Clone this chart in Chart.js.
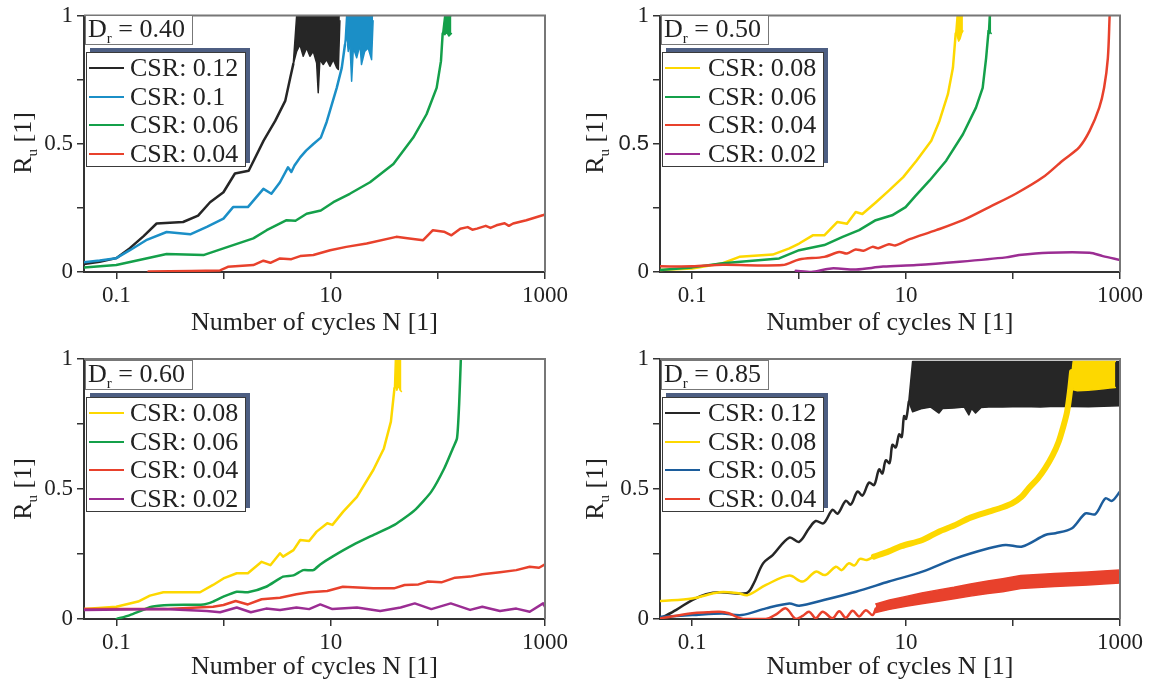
<!DOCTYPE html>
<html>
<head>
<meta charset="utf-8">
<script src="https://cdn.jsdelivr.net/npm/chart.js@4.4.0/dist/chart.umd.min.js"></script>
<style>
  html, body { margin: 0; padding: 0; background: #fff; }
  #page { position: relative; width: 1153px; height: 684px; overflow: hidden;
          font-family: "Liberation Serif", "Times New Roman", serif; color: #222; }
  #page canvas { position: absolute; }
  .dr { position: absolute; width: 108px; height: 30px; box-sizing: border-box;
        border: 1.5px solid #777; background: #fff; font-size: 26px; line-height: 26px;
        padding-left: 2px; white-space: nowrap; }
  .legend { position: absolute; height: 115px; box-sizing: border-box; background: #fff;
            border: 1.5px solid #3a3a3a; box-shadow: 4px -4px 0 0 #4d5e82; }
  .legend .row { position: absolute; left: 0; right: 0; height: 28px; line-height: 28px;
                 font-size: 26px; white-space: nowrap; }
  .legend .swatch { position: absolute; left: 2px; top: 13px; width: 35px; height: 2px; }
  .legend .txt { position: absolute; }
  .ytitle { position: absolute; width: 120px; height: 30px; line-height: 30px; text-align: center;
            font-size: 26px; transform: rotate(-90deg); white-space: nowrap; }
  .xtitle { position: absolute; width: 400px; height: 30px; line-height: 30px; text-align: center;
            font-size: 26px; white-space: nowrap; }
  sub { font-size: 15px; vertical-align: -6px; line-height: 0; }
</style>
</head>
<body>
<div id="page"></div>
<script>
// Axis ticks
const xTickValues = [0.1, 1, 10, 100, 1000];
const xTickLabels = ['0.1', '', '10', '', '1000'];
const yTickValues = [0, 0.25, 0.5, 0.75, 1];
const yTickLabels = ['0', '', '0.5', '', '1'];

// Dr = 0.40
const d40CycBlack = [0.05, 0.07, 0.1, 0.134, 0.18, 0.238, 0.42, 0.58, 0.75, 1.0, 1.28, 1.72, 2.37, 3.04, 3.77, 4.2, 4.48];
const d40RuBlack = [0.031, 0.04, 0.054, 0.093, 0.14, 0.189, 0.195, 0.22, 0.272, 0.311, 0.384, 0.395, 0.512, 0.589, 0.667, 0.757, 0.81];
const d40CycBlackBand = [4.48, 4.82, 5.17, 5.55, 5.97, 6.41, 6.88, 7.4, 7.66, 7.94, 8.53, 9.18, 9.85, 10.6, 11.4, 11.8, 12.2];
const d40LowBlackBand = [0.81, 0.86, 0.886, 0.841, 0.873, 0.841, 0.86, 0.815, 0.699, 0.828, 0.809, 0.828, 0.802, 0.828, 0.796, 0.79, 0.98];
const d40HighBlackBand = [0.81, 1, 1, 1, 1, 1, 1, 1, 1, 1, 1, 1, 1, 1, 1, 1, 1];
const d40CycBlue = [0.05, 0.07, 0.1, 0.134, 0.19, 0.295, 0.49, 0.7, 1.0, 1.23, 1.69, 2.36, 2.8, 3.37, 4.0, 4.3, 4.6, 5.2, 5.9, 6.9, 8.1, 9.18, 9.85, 11.4, 12.7, 13.6];
const d40RuBlue = [0.038, 0.045, 0.054, 0.085, 0.124, 0.156, 0.147, 0.176, 0.208, 0.253, 0.253, 0.324, 0.305, 0.35, 0.408, 0.39, 0.415, 0.447, 0.473, 0.499, 0.524, 0.585, 0.628, 0.718, 0.796, 0.886];
const d40CycBlueBand = [13.6, 14.1, 14.6, 15.1, 15.7, 16.3, 17.5, 18.8, 19.4, 20.8, 22.4, 24.1, 24.9];
const d40LowBlueBand = [0.886, 0.925, 0.86, 0.899, 0.744, 0.873, 0.835, 0.886, 0.809, 0.86, 0.873, 0.828, 0.98];
const d40HighBlueBand = [0.886, 1, 1, 1, 1, 1, 1, 1, 1, 1, 1, 1, 1];
const d40CycGreen = [0.05, 0.1, 0.19, 0.295, 0.65, 1.0, 1.9, 2.53, 3.88, 4.7, 5.97, 8.1, 10.6, 15.1, 23.3, 38.5, 59, 78.5, 97.5, 107, 111];
const d40RuGreen = [0.018, 0.027, 0.053, 0.07, 0.066, 0.092, 0.131, 0.163, 0.202, 0.2, 0.227, 0.24, 0.272, 0.305, 0.35, 0.421, 0.524, 0.615, 0.718, 0.822, 0.93];
const d40CycGreenBand = [111, 116, 121, 127, 134];
const d40LowGreenBand = [0.93, 0.925, 0.935, 0.92, 0.93];
const d40HighGreenBand = [0.93, 1, 1, 1, 1];
const d40CycRed = [0.2, 0.5, 0.93, 1.1, 1.9, 2.36, 2.74, 3.37, 4.3, 5.2, 6.9, 9.9, 14, 21.7, 41, 52, 73, 90, 114, 134, 162, 190, 210, 232, 280, 310, 352, 420, 460, 504, 670, 950, 1000];
const d40RuRed = [0.002, 0.004, 0.006, 0.02, 0.027, 0.044, 0.036, 0.053, 0.05, 0.062, 0.066, 0.085, 0.098, 0.111, 0.137, 0.132, 0.124, 0.163, 0.157, 0.143, 0.169, 0.175, 0.165, 0.169, 0.18, 0.172, 0.182, 0.19, 0.18, 0.189, 0.202, 0.221, 0.225];

// Dr = 0.50
const d50CycYellow = [0.05, 0.1, 0.193, 0.276, 0.566, 0.81, 1.0, 1.34, 1.72, 2.28, 2.8, 3.38, 3.9, 5.2, 6.9, 9.4, 12.5, 17.2, 20.5, 24.6, 27.4, 29.1];
const d50RuYellow = [0.008, 0.014, 0.034, 0.059, 0.068, 0.092, 0.111, 0.143, 0.143, 0.195, 0.188, 0.234, 0.226, 0.271, 0.317, 0.37, 0.434, 0.512, 0.589, 0.693, 0.796, 0.93];
const d50CycYellowBand = [29.1, 30, 31, 32, 33, 34];
const d50LowYellowBand = [0.93, 0.92, 0.9, 0.91, 0.93, 0.94];
const d50HighYellowBand = [0.93, 1, 1, 1, 1, 1];
const d50CycGreen = [0.05, 0.1, 0.193, 0.65, 1.0, 1.72, 2.55, 3.64, 5.2, 7.4, 9.9, 12.3, 16.6, 23.7, 34, 45, 52, 56, 59];
const d50RuGreen = [0.008, 0.018, 0.034, 0.053, 0.085, 0.105, 0.137, 0.163, 0.202, 0.221, 0.253, 0.298, 0.357, 0.434, 0.537, 0.641, 0.718, 0.834, 0.94];
const d50CycGreenBand = [59, 60, 61, 62.5];
const d50LowGreenBand = [0.94, 0.93, 0.935, 0.93];
const d50HighGreenBand = [0.94, 1, 1, 1];
const d50CycRed = [0.05, 0.1, 0.193, 0.7, 1.0, 1.72, 2.37, 2.8, 3.37, 4.0, 4.84, 5.5, 6.9, 8.0, 10.8, 19.1, 34, 60, 106, 190, 290, 415, 520, 640, 710, 770, 800];
const d50RuRed = [0.022, 0.022, 0.028, 0.027, 0.049, 0.059, 0.078, 0.072, 0.088, 0.083, 0.098, 0.093, 0.108, 0.104, 0.128, 0.163, 0.202, 0.253, 0.305, 0.369, 0.434, 0.486, 0.55, 0.641, 0.718, 0.834, 1.0];
const d50CycPurple = [0.93, 1.3, 2.0, 3.4, 6.1, 12.5, 31.6, 86, 114, 215, 520, 690, 1000];
const d50RuPurple = [0.005, 0.0, 0.014, 0.01, 0.021, 0.027, 0.04, 0.057, 0.066, 0.075, 0.075, 0.062, 0.047];

// Dr = 0.60
const d60CycYellow = [0.05, 0.1, 0.16, 0.206, 0.275, 0.605, 0.8, 1.0, 1.33, 1.69, 2.27, 2.74, 3.37, 3.6, 4.5, 5.2, 6.3, 7.4, 9.3, 10.4, 13.1, 17.6, 25, 31.4, 36.5, 39.4];
const d60RuYellow = [0.038, 0.047, 0.067, 0.09, 0.103, 0.103, 0.131, 0.156, 0.176, 0.176, 0.22, 0.207, 0.253, 0.24, 0.265, 0.304, 0.3, 0.336, 0.368, 0.362, 0.413, 0.47, 0.573, 0.656, 0.759, 0.887];
const d60CycYellowBand = [39.4, 40.2, 41.5, 43, 44.5, 45.8];
const d60LowYellowBand = [0.887, 0.9, 0.88, 0.9, 0.88, 0.875];
const d60HighYellowBand = [0.887, 1, 1, 1, 1, 1];
const d60CycGreen = [0.101, 0.134, 0.214, 0.32, 0.65, 0.8, 1.0, 1.33, 1.69, 2.5, 3.6, 4.5, 5.55, 6.9, 8.0, 10.4, 16.2, 25, 39.4, 61, 87, 115, 138, 151, 158, 164];
const d60RuGreen = [0.0, 0.015, 0.047, 0.054, 0.056, 0.067, 0.086, 0.105, 0.103, 0.124, 0.163, 0.168, 0.188, 0.188, 0.21, 0.24, 0.285, 0.323, 0.362, 0.419, 0.49, 0.58, 0.656, 0.695, 0.823, 1.0];
const d60CycRed = [0.05, 0.3, 0.8, 1.0, 1.3, 1.69, 2.27, 3.37, 4.8, 6.3, 9.3, 13, 25, 39, 49, 66, 81, 108, 145, 200, 260, 380, 540, 720, 880, 1000];
const d60RuRed = [0.038, 0.038, 0.047, 0.054, 0.069, 0.056, 0.076, 0.082, 0.095, 0.103, 0.108, 0.124, 0.118, 0.118, 0.131, 0.133, 0.144, 0.141, 0.159, 0.163, 0.172, 0.18, 0.188, 0.201, 0.197, 0.21];
const d60CycPurple = [0.05, 0.275, 0.7, 0.93, 1.33, 1.8, 2.5, 3.37, 4.8, 6.3, 8.0, 10.4, 17.6, 29, 45, 61, 87, 132, 200, 260, 380, 540, 720, 960, 1000];
const d60RuPurple = [0.035, 0.038, 0.031, 0.026, 0.044, 0.026, 0.04, 0.035, 0.044, 0.038, 0.056, 0.038, 0.044, 0.031, 0.044, 0.06, 0.038, 0.06, 0.035, 0.047, 0.031, 0.04, 0.028, 0.06, 0.047];

// Dr = 0.85
const d85CycBlack = [0.051, 0.071, 0.1, 0.135, 0.18, 0.32, 0.37, 0.46, 0.566, 0.81, 1.0, 1.24, 1.43, 1.69, 2.05, 2.29, 2.73, 3.04, 3.51, 3.91, 4.51, 5.02, 5.59, 6.0, 6.45, 7.0, 7.45, 8.0, 8.6, 9.1, 9.57, 10.0, 10.6];
const d85RuBlack = [0.003, 0.035, 0.073, 0.095, 0.103, 0.099, 0.131, 0.214, 0.246, 0.313, 0.297, 0.349, 0.377, 0.368, 0.42, 0.405, 0.455, 0.44, 0.49, 0.475, 0.525, 0.515, 0.575, 0.56, 0.61, 0.6, 0.67, 0.66, 0.71, 0.7, 0.78, 0.77, 0.836];
const d85CycBlackBand = [10.6, 11.5, 14.2, 17, 20.3, 22, 28, 35, 38.6, 41, 44.6, 50, 59.4, 80, 122, 180, 249, 350, 508, 700, 1000];
const d85LowBlackBand = [0.836, 0.797, 0.81, 0.815, 0.792, 0.81, 0.812, 0.815, 0.785, 0.81, 0.792, 0.813, 0.815, 0.815, 0.817, 0.815, 0.818, 0.817, 0.816, 0.818, 0.82];
const d85HighBlackBand = [0.836, 0.99, 0.99, 0.99, 0.99, 0.99, 0.99, 0.99, 0.99, 0.99, 0.99, 0.99, 0.99, 0.99, 0.99, 0.99, 0.99, 0.99, 0.99, 0.99, 0.99];
const d85CycYellow = [0.051, 0.1, 0.18, 0.27, 0.33, 0.49, 0.81, 1.08, 1.43, 1.75, 2.2, 2.5, 2.9, 3.3, 3.7, 4.3, 5.0];
const d85RuYellow = [0.069, 0.079, 0.103, 0.099, 0.092, 0.131, 0.167, 0.144, 0.182, 0.169, 0.201, 0.188, 0.214, 0.206, 0.231, 0.227, 0.24];
const d85CycYellowThick = [5.0, 6.9, 9.0, 14.2, 20, 29, 40, 59.4, 80, 98, 120, 140, 170, 200, 235, 267, 295, 320, 343, 356];
const d85RuYellowThick = [0.24, 0.26, 0.28, 0.304, 0.335, 0.362, 0.39, 0.413, 0.43, 0.445, 0.47, 0.503, 0.54, 0.58, 0.63, 0.682, 0.74, 0.797, 0.887, 0.95];
const d85CycYellowBand = [356, 365, 400, 500, 600, 700, 800, 905];
const d85LowYellowBand = [0.95, 0.882, 0.878, 0.88, 0.883, 0.886, 0.888, 0.89];
const d85HighYellowBand = [0.95, 0.99, 0.99, 0.99, 0.99, 0.99, 0.99, 0.99];
const d85CycBlue = [0.051, 0.1, 0.19, 0.29, 0.49, 0.81, 1.0, 1.7, 3.4, 6.9, 14.2, 29, 59.4, 85, 122, 200, 249, 356, 475, 587, 730, 840, 1000];
const d85RuBlue = [0.009, 0.015, 0.021, 0.015, 0.041, 0.06, 0.051, 0.073, 0.105, 0.144, 0.182, 0.233, 0.272, 0.285, 0.279, 0.323, 0.33, 0.349, 0.406, 0.403, 0.464, 0.454, 0.49];
const d85CycRed = [0.051, 0.1, 0.14, 0.18, 0.22, 0.26, 0.3, 0.49, 0.62, 0.75, 0.93, 1.08, 1.24, 1.43, 1.66, 2.05, 2.37, 2.73, 3.16, 3.64, 4.2, 4.85, 5.2];
const d85RuRed = [0.003, 0.022, 0.026, 0.028, 0.022, 0.008, 0.0, 0.0, 0.02, 0.041, 0.0, 0.012, 0.028, 0.003, 0.028, 0.003, 0.03, 0.005, 0.032, 0.01, 0.034, 0.015, 0.04];
const d85CycRedBand = [5.2, 7, 10, 14, 20, 28, 40, 58, 80, 118, 170, 245, 350, 500, 700, 1000];
const d85LowRedBand = [0.025, 0.037, 0.049, 0.059, 0.068, 0.078, 0.088, 0.098, 0.105, 0.117, 0.121, 0.125, 0.128, 0.131, 0.135, 0.138];
const d85HighRedBand = [0.058, 0.073, 0.087, 0.1, 0.112, 0.122, 0.135, 0.146, 0.155, 0.167, 0.171, 0.175, 0.178, 0.181, 0.185, 0.188];

const colors = {
    black: '#262626',
    cyan: '#1b8fc7',
    green: '#14a04a',
    red: '#e8412c',
    yellow: '#fdd800',
    purple: '#9b2d93',
    navy: '#1c5d9c'
};

const serif = 'Liberation Serif, Times New Roman, serif';
const sans = 'Liberation Sans, Arial, sans-serif';

const panels = [
    {
        dr: '0.40', box: { left: 0, top: 0, width: 576, height: 342 },
        area: { l: 84, t: 14, r: 545, b: 272 }, xTitleY: 322, yTitleX: 23, legendW: 160, textLeft: 45,
        series: [
            { label: 'CSR: 0.12', color: colors.black, parts: [
                { n: d40CycBlack, ru: d40RuBlack },
                { n: d40CycBlackBand, lo: d40LowBlackBand, hi: d40HighBlackBand }] },
            { label: 'CSR: 0.1', color: colors.cyan, parts: [
                { n: d40CycBlue, ru: d40RuBlue },
                { n: d40CycBlueBand, lo: d40LowBlueBand, hi: d40HighBlueBand }] },
            { label: 'CSR: 0.06', color: colors.green, parts: [
                { n: d40CycGreen, ru: d40RuGreen },
                { n: d40CycGreenBand, lo: d40LowGreenBand, hi: d40HighGreenBand }] },
            { label: 'CSR: 0.04', color: colors.red, parts: [
                { n: d40CycRed, ru: d40RuRed }] }
        ]
    },
    {
        dr: '0.50', box: { left: 576, top: 0, width: 577, height: 342 }, sansHalf: true,
        area: { l: 660, t: 14, r: 1120, b: 272 }, xTitleY: 322, yTitleX: 595, legendW: 162, textLeft: 47,
        series: [
            { label: 'CSR: 0.08', color: colors.yellow, parts: [
                { n: d50CycYellow, ru: d50RuYellow },
                { n: d50CycYellowBand, lo: d50LowYellowBand, hi: d50HighYellowBand }] },
            { label: 'CSR: 0.06', color: colors.green, parts: [
                { n: d50CycGreen, ru: d50RuGreen },
                { n: d50CycGreenBand, lo: d50LowGreenBand, hi: d50HighGreenBand }] },
            { label: 'CSR: 0.04', color: colors.red, parts: [
                { n: d50CycRed, ru: d50RuRed, tension: 0.3 }] },
            { label: 'CSR: 0.02', color: colors.purple, parts: [
                { n: d50CycPurple, ru: d50RuPurple, tension: 0.3 }] }
        ]
    },
    {
        dr: '0.60', box: { left: 0, top: 342, width: 576, height: 342 },
        area: { l: 84, t: 359, r: 545, b: 619 }, xTitleY: 666, yTitleX: 23, legendW: 160, textLeft: 45,
        series: [
            { label: 'CSR: 0.08', color: colors.yellow, parts: [
                { n: d60CycYellow, ru: d60RuYellow },
                { n: d60CycYellowBand, lo: d60LowYellowBand, hi: d60HighYellowBand }] },
            { label: 'CSR: 0.06', color: colors.green, parts: [
                { n: d60CycGreen, ru: d60RuGreen, tension: 0.2 }] },
            { label: 'CSR: 0.04', color: colors.red, parts: [
                { n: d60CycRed, ru: d60RuRed }] },
            { label: 'CSR: 0.02', color: colors.purple, parts: [
                { n: d60CycPurple, ru: d60RuPurple }] }
        ]
    },
    {
        dr: '0.85', box: { left: 576, top: 342, width: 577, height: 342 },
        area: { l: 660, t: 359, r: 1120, b: 619 }, xTitleY: 666, yTitleX: 595, legendW: 162, textLeft: 47,
        series: [
            { label: 'CSR: 0.12', color: colors.black, parts: [
                { n: d85CycBlack, ru: d85RuBlack, tension: 0.35 },
                { n: d85CycBlackBand, lo: d85LowBlackBand, hi: d85HighBlackBand }] },
            { label: 'CSR: 0.08', color: colors.yellow, parts: [
                { n: d85CycYellow, ru: d85RuYellow, tension: 0.35 },
                { n: d85CycYellowThick, ru: d85RuYellowThick, width: 6, tension: 0.3 },
                { n: d85CycYellowBand, lo: d85LowYellowBand, hi: d85HighYellowBand }] },
            { label: 'CSR: 0.05', color: colors.navy, parts: [
                { n: d85CycBlue, ru: d85RuBlue, tension: 0.3 }] },
            { label: 'CSR: 0.04', color: colors.red, parts: [
                { n: d85CycRed, ru: d85RuRed, tension: 0.35 },
                { n: d85CycRedBand, lo: d85LowRedBand, hi: d85HighRedBand }] }
        ]
    }
];

// zip cycles and Ru into points
function pts(n, ru) {
    return n.map(function(v, i) { return { x: v, y: ru[i] }; });
}

function makeLine(n, ru, color, width, fill, tension) {
    return {
        data: pts(n, ru),
        borderColor: color,
        backgroundColor: color,
        borderWidth: width,
        pointRadius: 0,
        tension: tension || 0,
        fill: fill,
        borderJoinStyle: 'round',
        borderCapStyle: 'round'
    };
}

function buildDatasets(series) {
    const sets = [];
    series.forEach(function(s) {
        s.parts.forEach(function(p) {
            if (p.lo) {
                sets.push(makeLine(p.n, p.lo, s.color, 1.5, false));
                sets.push(makeLine(p.n, p.hi, s.color, 1.5, sets.length - 1));
            } else {
                sets.push(makeLine(p.n, p.ru, s.color, p.width || 2.5, false, p.tension));
            }
        });
    });
    // later series drawn on top
    sets.forEach(function(d, i) { d.order = -i; });
    return sets;
}

// grey top and right frame
const framePlugin = {
    id: 'frame',
    afterDraw(chart) {
        const a = chart.chartArea;
        const ctx = chart.ctx;
        ctx.save();
        ctx.strokeStyle = '#777';
        ctx.lineWidth = 2;
        ctx.beginPath();
        ctx.moveTo(a.left, a.top);
        ctx.lineTo(a.right, a.top);
        ctx.lineTo(a.right, a.bottom);
        ctx.stroke();
        ctx.restore();
    }
};

function addDiv(parent, cls, style, html) {
    const d = document.createElement('div');
    d.className = cls;
    Object.assign(d.style, style);
    d.innerHTML = html;
    parent.appendChild(d);
    return d;
}

const page = document.getElementById('page');

panels.forEach(function(p) {
    const canvas = document.createElement('canvas');
    canvas.width = p.box.width;
    canvas.height = p.box.height;
    canvas.style.left = p.box.left + 'px';
    canvas.style.top = p.box.top + 'px';
    page.appendChild(canvas);

    const yWidth = p.area.l - p.box.left;
    const xHeight = p.box.top + p.box.height - p.area.b;
    const tickGrid = { display: true, drawOnChartArea: false, drawTicks: true, tickLength: 7,
                       tickColor: '#333', tickWidth: 1.5, lineWidth: 1.5 };
    const axisBorder = { display: true, color: '#333', width: 2 };

    new Chart(canvas.getContext('2d'), {
        type: 'line',
        data: { datasets: buildDatasets(p.series) },
        options: {
            responsive: false,
            animation: false,
            devicePixelRatio: 1,
            events: [],
            layout: { padding: { top: p.area.t - p.box.top, right: p.box.left + p.box.width - p.area.r, left: 0, bottom: 0 } },
            plugins: { legend: { display: false }, tooltip: { enabled: false } },
            scales: {
                x: {
                    type: 'logarithmic', min: 0.05, max: 1000,
                    afterFit: function(s) { s.height = xHeight; },
                    afterBuildTicks: function(s) { s.ticks = xTickValues.map(function(v) { return { value: v }; }); },
                    ticks: {
                        autoSkip: false, maxRotation: 0, padding: 5, color: '#222',
                        font: { family: serif, size: 23, lineHeight: 1 },
                        callback: function(v, i) { return xTickLabels[i]; }
                    },
                    grid: tickGrid,
                    border: axisBorder
                },
                y: {
                    type: 'linear', min: 0, max: 1,
                    afterFit: function(s) { s.width = yWidth; },
                    afterBuildTicks: function(s) { s.ticks = yTickValues.map(function(v) { return { value: v }; }); },
                    ticks: {
                        autoSkip: false, padding: 4, color: '#222',
                        font: function(ctx) {
                            if (p.sansHalf && ctx.tick && ctx.tick.value === 0.5) {
                                return { family: sans, size: 22, lineHeight: 1 };
                            }
                            return { family: serif, size: 23, lineHeight: 1 };
                        },
                        callback: function(v, i) { return yTickLabels[i]; }
                    },
                    grid: tickGrid,
                    border: axisBorder
                }
            }
        },
        plugins: [framePlugin]
    });

    // Dr label box
    addDiv(page, 'dr', { left: (p.area.l + 1) + 'px', top: (p.area.t + 1) + 'px' },
        'D<sub>r</sub> = ' + p.dr);

    // legend
    const legend = addDiv(page, 'legend', {
        left: (p.area.l + 2) + 'px', top: (p.area.t + 38) + 'px', width: p.legendW + 'px'
    }, '');
    p.series.forEach(function(s, i) {
        const row = addDiv(legend, 'row', { top: Math.round(1 + i * 28.5) + 'px' }, '');
        addDiv(row, 'swatch', { background: s.color }, '');
        addDiv(row, 'txt', { left: (p.textLeft - 2) + 'px' }, s.label);
    });

    // axis titles
    const cy = (p.area.t + p.area.b) / 2;
    addDiv(page, 'ytitle', { left: (p.yTitleX - 60) + 'px', top: (cy - 15) + 'px' }, 'R<sub>u</sub> [1]');
    const cx = (p.area.l + p.area.r) / 2;
    addDiv(page, 'xtitle', { left: (cx - 200) + 'px', top: (p.xTitleY - 15) + 'px' }, 'Number of cycles N [1]');
});
</script>
</body>
</html>
